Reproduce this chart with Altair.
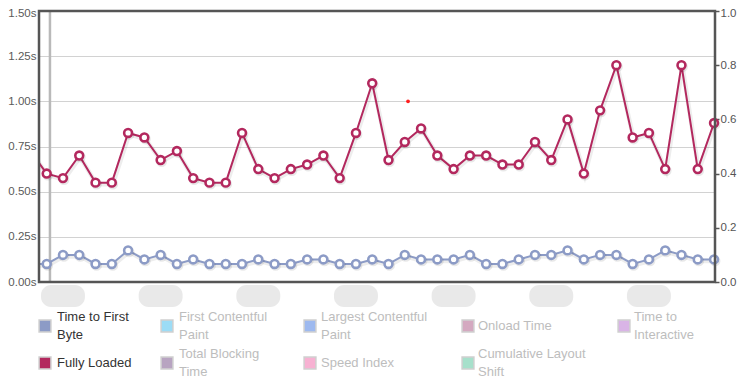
import altair as alt
import pandas as pd

# ---- data ----
t_index = list(range(-1, 42))
fully_loaded = [0.725, 0.60, 0.575, 0.70, 0.55, 0.55, 0.825, 0.80, 0.675, 0.725,
                0.575, 0.55, 0.55, 0.825, 0.625, 0.575, 0.625, 0.65, 0.70, 0.575,
                0.825, 1.10, 0.675, 0.775, 0.85, 0.70, 0.625, 0.70, 0.70, 0.65,
                0.65, 0.775, 0.675, 0.90, 0.60, 0.95, 1.20, 0.80, 0.825, 0.625,
                1.20, 0.625, 0.88]
ttfb = [0.10, 0.10, 0.15, 0.15, 0.10, 0.10, 0.175, 0.125, 0.15, 0.10,
        0.125, 0.10, 0.10, 0.10, 0.125, 0.10, 0.10, 0.125, 0.125, 0.10,
        0.10, 0.125, 0.10, 0.15, 0.125, 0.125, 0.125, 0.15, 0.10, 0.10,
        0.125, 0.15, 0.15, 0.175, 0.125, 0.15, 0.15, 0.10, 0.125, 0.175,
        0.15, 0.125, 0.125]
series_names = ["Time to First|Byte", "First Contentful|Paint", "Largest Contentful|Paint",
                "Onload Time", "Time to|Interactive", "Fully Loaded", "Total Blocking|Time",
                "Speed Index", "Cumulative Layout|Shift"]
series_colors = ["#8c9bc6", "#9cdcf6", "#9db9ef", "#d4a9c0", "#d9b4e6",
                 "#b3285e", "#b8a4c1", "#f7b1d2", "#a7e0cb"]
active_series = ["Time to First|Byte", "Fully Loaded"]
x_grid_ticks = [1, 7, 13, 19, 25, 31, 37]
left_ticks = [0, 0.25, 0.5, 0.75, 1.0, 1.25, 1.5]
right_ticks = [0, 0.2, 0.4, 0.6, 0.8, 1.0]
marker_t = [0.2]
note_t = [22.2]
note_value = [1.0]

# ---- layout / style (pixels, relative to the plot origin) ----
W, H = 676, 271
FONT = "Liberation Sans"
legend_col_swatch = [6, 128, 271, 429, 585]
legend_col_text = [18, 140, 282, 439, 595]
legend_row_y = [H + 44, H + 81]
legend_line_h = 18

rows = []
for name, vals in [("Time to First|Byte", ttfb), ("Fully Loaded", fully_loaded)]:
    for t, v in zip(t_index, vals):
        rows.append({"t": t, "value": v, "series": name})
df = pd.DataFrame(rows)
marker_df = pd.DataFrame({"t": marker_t})
note_df = pd.DataFrame({"t": note_t, "value": note_value})
blob_df = pd.DataFrame({"t": x_grid_ticks})
right_df = pd.DataFrame({"r": [right_ticks[0], right_ticks[-1]]})
one_df = pd.DataFrame({"k": [0]})

xscale = alt.Scale(domain=[-0.473, 41.06], nice=False, zero=False)
yscale = alt.Scale(domain=[0, 1.5], nice=False)
cscale = alt.Scale(domain=series_names, range=series_colors)

x_enc = alt.X("t:Q", scale=xscale,
              axis=alt.Axis(values=x_grid_ticks, labels=False, ticks=False, domain=False,
                            grid=True, gridColor="#d2d2d2", gridWidth=1, title=None))
y_enc = alt.Y("value:Q", scale=yscale,
              axis=alt.Axis(values=left_ticks, labelExpr="format(datum.value, '.2f') + 's'",
                            ticks=False, domain=False, grid=True, gridColor="#d2d2d2",
                            gridWidth=1, labelPadding=3, labelFontSize=11.5, labelFont=FONT,
                            labelColor="#5a5a5a", title=None,
                            labelOffset={"condition": {"test": "datum.value == 1.5", "value": 2},
                                         "value": 0}))

base = alt.Chart(df)

line_shadow = base.mark_line(clip=True, strokeWidth=4.5, color="black", opacity=0.07,
                             xOffset=1, yOffset=1.5).encode(x=x_enc, y=y_enc, detail="series:N")
lines = base.mark_line(clip=True, strokeWidth=2).encode(
    x=x_enc, y=y_enc, color=alt.Color("series:N", scale=cscale, legend=None))
pt_shadow = base.transform_filter("datum.t >= 0").mark_point(
    shape="circle", filled=False, stroke="black", strokeOpacity=0.09, strokeWidth=3,
    size=62, xOffset=1, yOffset=1.5, opacity=1).encode(x=x_enc, y=y_enc)
points = base.transform_filter("datum.t >= 0").mark_point(
    shape="circle", filled=True, fill="white", strokeWidth=2.6, size=62, opacity=1).encode(
    x=x_enc, y=y_enc, stroke=alt.Stroke("series:N", scale=cscale, legend=None))

marker = alt.Chart(marker_df).mark_rule(color="#b9b9b9", strokeWidth=2.5).encode(x=x_enc)

note = alt.Chart(note_df).mark_circle(color="#ff1f1f", size=14, opacity=1).encode(x=x_enc, y=y_enc)

blobs = alt.Chart(blob_df).transform_calculate(
    t0="datum.t - 1.35", t1="datum.t + 1.35").mark_rect(
    color="#e9e9e9", cornerRadius=10).encode(
    x=alt.X("t0:Q", scale=xscale, axis=None), x2="t1:Q",
    y=alt.value(H + 3), y2=alt.value(H + 25))

frame = alt.Chart(one_df).mark_rect(
    fill=None, filled=False, stroke="#555555", strokeWidth=2.5).encode(
    x=alt.value(0), x2=alt.value(W), y=alt.value(0), y2=alt.value(H))

# ---- legend built from the series lists ----
legend_layers = []
for i, (name, col) in enumerate(zip(series_names, series_colors)):
    c, r = i % 5, i // 5
    cy = legend_row_y[r]
    legend_layers.append(
        alt.Chart(one_df).mark_square(size=140, fill=col, stroke="#cfcfcf", strokeWidth=1.5,
                                      opacity=1, filled=True).encode(
            x=alt.value(legend_col_swatch[c]), y=alt.value(cy)))
    parts = name.split("|")
    n = len(parts)
    tcolor = "#333333" if name in active_series else "#bdbdbd"
    for k, part in enumerate(parts):
        dy = (k - (n - 1) / 2) * legend_line_h
        legend_layers.append(
            alt.Chart(one_df).mark_text(text=part, align="left", baseline="middle",
                                        font=FONT, fontSize=13, color=tcolor).encode(
                x=alt.value(legend_col_text[c]), y=alt.value(cy + dy)))

left = alt.layer(marker, line_shadow, lines, pt_shadow, points, note, blobs, frame,
                 *legend_layers)

right = alt.Chart(right_df).mark_rule(opacity=0).encode(
    y=alt.Y("r:Q", scale=alt.Scale(domain=[0, 1], nice=False),
            axis=alt.Axis(orient="right", values=right_ticks, format=".1f", grid=False,
                          domain=False, tickSize=4, tickColor="#555555", tickWidth=1.5,
                          labelPadding=1, labelFontSize=11.5, labelFont=FONT,
                          labelColor="#555555", title=None,
                          labelOffset={"condition": {"test": "datum.value == 1", "value": 2},
                                       "value": 0})))

chart = alt.layer(left, right).resolve_scale(y="independent").properties(
    width=W, height=H,
    padding={"left": 31, "top": 3, "right": 22, "bottom": 97},
    autosize=alt.AutoSizeParams(type="none"),
).configure_view(stroke=None).configure(font=FONT)

chart.save("out.html", embed_options={"renderer": "svg", "actions": False})
